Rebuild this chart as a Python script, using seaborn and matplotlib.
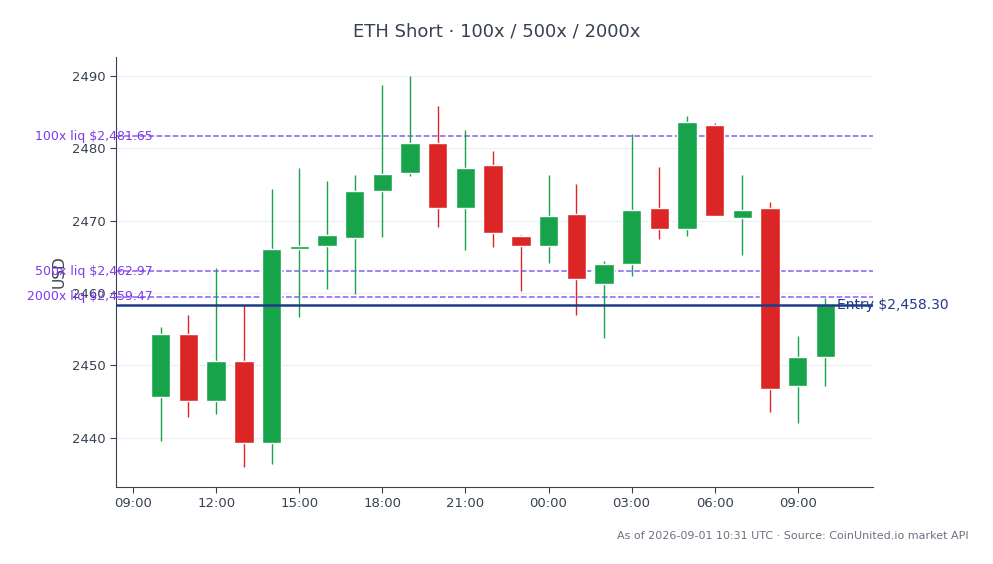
import numpy as np
import pandas as pd
import seaborn as sns
import matplotlib.pyplot as plt
import matplotlib.dates as mdates
import matplotlib.transforms as mtrans

# hourly candles, 2026-08-31 10:00 -> 2026-09-01 10:00
times = pd.date_range('2026-08-31 10:00', periods=25, freq='h')
opens = [2445.6, 2454.3, 2445.1, 2450.6, 2439.3, 2466.1, 2466.5, 2467.6, 2474.1, 2476.6,
         2480.7, 2471.7, 2477.7, 2467.9, 2466.5, 2470.9, 2461.2, 2464.0, 2471.7, 2468.9,
         2483.2, 2470.3, 2471.7, 2447.2, 2451.2]
closes = [2454.4, 2445.1, 2450.6, 2439.3, 2466.1, 2466.5, 2468.0, 2474.1, 2476.4, 2480.7,
          2471.7, 2477.3, 2468.3, 2466.5, 2470.7, 2461.9, 2464.0, 2471.4, 2468.9, 2483.6,
          2470.7, 2471.4, 2446.8, 2451.2, 2458.3]
highs = [2455.3, 2456.9, 2463.5, 2458.4, 2474.3, 2477.3, 2475.5, 2476.3, 2488.8, 2490.0,
         2485.9, 2482.5, 2479.6, 2468.0, 2476.3, 2475.1, 2464.4, 2482.0, 2477.4, 2484.5,
         2483.5, 2476.3, 2472.6, 2454.1, 2459.3]
lows = [2439.6, 2442.9, 2443.3, 2436.0, 2436.4, 2456.7, 2460.6, 2459.8, 2467.8, 2476.2,
        2469.1, 2466.0, 2466.4, 2460.3, 2464.2, 2456.9, 2453.8, 2462.3, 2467.5, 2467.9,
        2470.7, 2465.3, 2443.5, 2442.1, 2447.1]

entry = 2458.30
liq_labels = ['100x', '500x', '2000x']
liq_prices = [2481.65, 2462.97, 2459.47]

GREEN, RED = '#16a34a', '#dc2626'
PURPLE, NAVY = '#8b5cf6', '#1e3a8a'

sns.set_style('white')
plt.rcParams['font.family'] = ['DejaVu Sans']

fig = plt.figure(figsize=(9.93, 5.64), dpi=100)
ax = fig.add_axes([116 / 993, 1 - 487 / 564, 757 / 993, 430 / 564])

x = mdates.date2num(times)
w = 0.7 / 24
for xi, o, c, h, l in zip(x, opens, closes, highs, lows):
    col = GREEN if c >= o else RED
    ax.vlines(xi, l, h, color=col, lw=1, zorder=2)
    ax.bar(xi, abs(c - o) if abs(c - o) > 0.3 else 0.4, bottom=min(o, c), width=w,
           color=col, zorder=3)

trans = mtrans.blended_transform_factory(ax.transAxes, ax.transData)
for lab, p in zip(liq_labels, liq_prices):
    ax.axhline(p, color=PURPLE, ls='--', lw=1.1, zorder=1)
    ax.text(0.048, p, f'{lab} liq ${p:,.2f}', transform=trans, ha='right', va='center',
            color='#7c3aed', fontsize=9, clip_on=False)
ax.axhline(entry, color=NAVY, lw=1.8, zorder=4)
ax.text(0.952, entry, f'Entry ${entry:,.2f}', transform=trans, ha='left', va='center',
        color=NAVY, fontsize=10, clip_on=False)

ax.set_xlim(mdates.date2num(pd.Timestamp('2026-08-31 08:23')),
            mdates.date2num(pd.Timestamp('2026-09-01 11:43')))
ax.set_ylim(2433.2, 2492.6)
ax.set_yticks([2440, 2450, 2460, 2470, 2480, 2490])
ax.xaxis.set_major_locator(mdates.HourLocator(byhour=range(0, 24, 3)))
ax.xaxis.set_major_formatter(mdates.DateFormatter('%H:%M'))
ax.grid(axis='y', color='#eceef1', lw=0.8)
ax.set_axisbelow(True)
for s in ['top', 'right']:
    ax.spines[s].set_visible(False)
for s in ['left', 'bottom']:
    ax.spines[s].set_color('#374151')
ax.tick_params(axis='both', colors='#374151', labelsize=9.5, length=4, left=True, bottom=True)
ax.set_ylabel('USD', color='#374151', fontsize=11)

fig.suptitle('ETH Short · 100x / 500x / 2000x', y=0.96, fontsize=13, color='#374151')
fig.text(0.975, 0.045, 'As of 2026-09-01 10:31 UTC · Source: CoinUnited.io market API',
         ha='right', fontsize=8, color='#6b7280')

fig.savefig('out.png', dpi=100)
